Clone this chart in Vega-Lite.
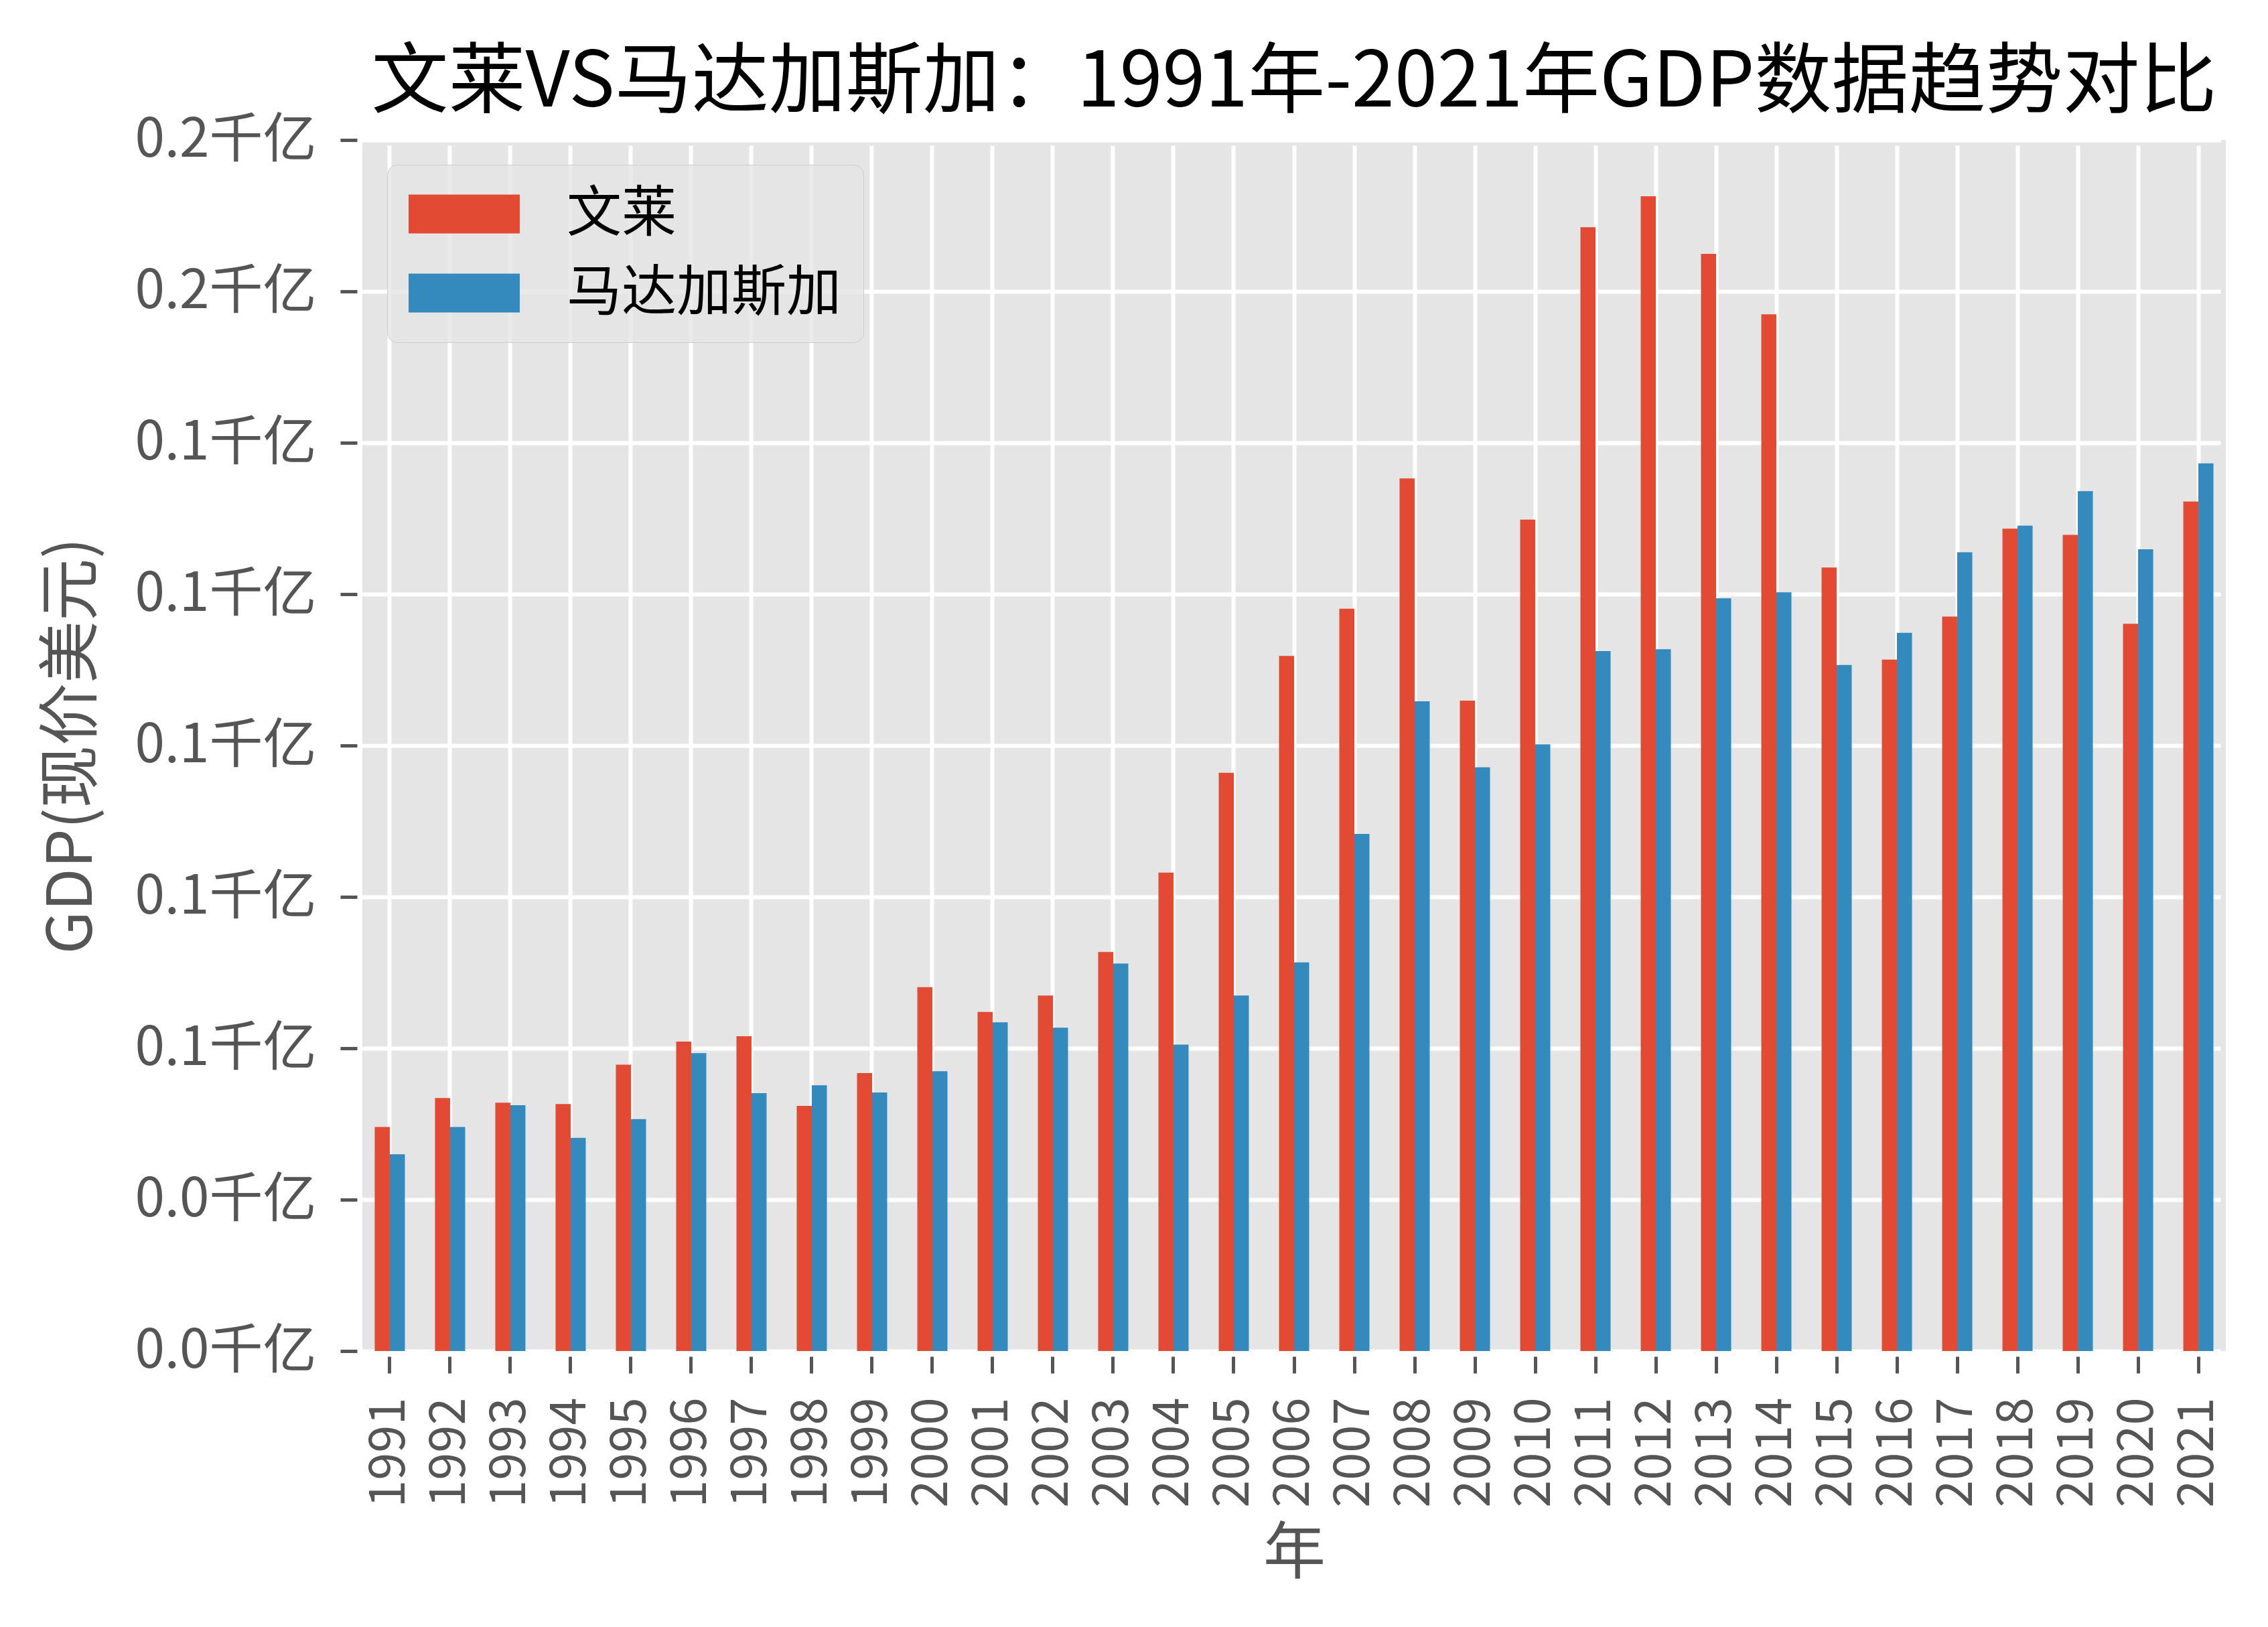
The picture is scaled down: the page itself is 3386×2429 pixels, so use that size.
{
  "$schema": "https://vega.github.io/schema/vega-lite/v6.json",
  "width": 2782,
  "height": 1808,
  "autosize": {"type": "none"},
  "padding": {"left": 541, "top": 209, "right": 63, "bottom": 412},
  "background": "white",
  "title": {
    "text": "文莱VS马达加斯加：1991年-2021年GDP数据趋势对比",
    "font": "Noto Sans CJK SC",
    "fontSize": 115,
    "fontWeight": "normal",
    "color": "#000000",
    "anchor": "middle",
    "offset": -14
  },
  "config": {
    "view": {"fill": "#E5E5E5", "stroke": null},
    "axis": {
      "domain": false,
      "grid": true,
      "gridColor": "#FFFFFF",
      "gridWidth": 6,
      "tickColor": "#555555",
      "tickWidth": 5,
      "tickSize": 25,
      "offset": 8,
      "labelLimit": 0,
      "labelColor": "#555555",
      "labelFont": "Noto Sans CJK SC",
      "titleFont": "Noto Sans CJK SC",
      "titleColor": "#555555",
      "titleFontWeight": "normal"
    }
  },
  "data": {
    "values": [
      {"year": "1991", "country": "文莱", "gdp": 3.70e9},
      {"year": "1992", "country": "文莱", "gdp": 4.18e9},
      {"year": "1993", "country": "文莱", "gdp": 4.10e9},
      {"year": "1994", "country": "文莱", "gdp": 4.08e9},
      {"year": "1995", "country": "文莱", "gdp": 4.73e9},
      {"year": "1996", "country": "文莱", "gdp": 5.11e9},
      {"year": "1997", "country": "文莱", "gdp": 5.20e9},
      {"year": "1998", "country": "文莱", "gdp": 4.05e9},
      {"year": "1999", "country": "文莱", "gdp": 4.59e9},
      {"year": "2000", "country": "文莱", "gdp": 6.01e9},
      {"year": "2001", "country": "文莱", "gdp": 5.60e9},
      {"year": "2002", "country": "文莱", "gdp": 5.87e9},
      {"year": "2003", "country": "文莱", "gdp": 6.59e9},
      {"year": "2004", "country": "文莱", "gdp": 7.90e9},
      {"year": "2005", "country": "文莱", "gdp": 9.55e9},
      {"year": "2006", "country": "文莱", "gdp": 11.48e9},
      {"year": "2007", "country": "文莱", "gdp": 12.26e9},
      {"year": "2008", "country": "文莱", "gdp": 14.41e9},
      {"year": "2009", "country": "文莱", "gdp": 10.74e9},
      {"year": "2010", "country": "文莱", "gdp": 13.73e9},
      {"year": "2011", "country": "文莱", "gdp": 18.56e9},
      {"year": "2012", "country": "文莱", "gdp": 19.07e9},
      {"year": "2013", "country": "文莱", "gdp": 18.12e9},
      {"year": "2014", "country": "文莱", "gdp": 17.12e9},
      {"year": "2015", "country": "文莱", "gdp": 12.94e9},
      {"year": "2016", "country": "文莱", "gdp": 11.42e9},
      {"year": "2017", "country": "文莱", "gdp": 12.13e9},
      {"year": "2018", "country": "文莱", "gdp": 13.58e9},
      {"year": "2019", "country": "文莱", "gdp": 13.48e9},
      {"year": "2020", "country": "文莱", "gdp": 12.01e9},
      {"year": "2021", "country": "文莱", "gdp": 14.03e9},
      {"year": "1991", "country": "马达加斯加", "gdp": 3.25e9},
      {"year": "1992", "country": "马达加斯加", "gdp": 3.70e9},
      {"year": "1993", "country": "马达加斯加", "gdp": 4.06e9},
      {"year": "1994", "country": "马达加斯加", "gdp": 3.52e9},
      {"year": "1995", "country": "马达加斯加", "gdp": 3.83e9},
      {"year": "1996", "country": "马达加斯加", "gdp": 4.92e9},
      {"year": "1997", "country": "马达加斯加", "gdp": 4.26e9},
      {"year": "1998", "country": "马达加斯加", "gdp": 4.39e9},
      {"year": "1999", "country": "马达加斯加", "gdp": 4.27e9},
      {"year": "2000", "country": "马达加斯加", "gdp": 4.62e9},
      {"year": "2001", "country": "马达加斯加", "gdp": 5.43e9},
      {"year": "2002", "country": "马达加斯加", "gdp": 5.34e9},
      {"year": "2003", "country": "马达加斯加", "gdp": 6.40e9},
      {"year": "2004", "country": "马达加斯加", "gdp": 5.06e9},
      {"year": "2005", "country": "马达加斯加", "gdp": 5.87e9},
      {"year": "2006", "country": "马达加斯加", "gdp": 6.42e9},
      {"year": "2007", "country": "马达加斯加", "gdp": 8.54e9},
      {"year": "2008", "country": "马达加斯加", "gdp": 10.73e9},
      {"year": "2009", "country": "马达加斯加", "gdp": 9.64e9},
      {"year": "2010", "country": "马达加斯加", "gdp": 10.02e9},
      {"year": "2011", "country": "马达加斯加", "gdp": 11.56e9},
      {"year": "2012", "country": "马达加斯加", "gdp": 11.59e9},
      {"year": "2013", "country": "马达加斯加", "gdp": 12.43e9},
      {"year": "2014", "country": "马达加斯加", "gdp": 12.53e9},
      {"year": "2015", "country": "马达加斯加", "gdp": 11.33e9},
      {"year": "2016", "country": "马达加斯加", "gdp": 11.86e9},
      {"year": "2017", "country": "马达加斯加", "gdp": 13.19e9},
      {"year": "2018", "country": "马达加斯加", "gdp": 13.63e9},
      {"year": "2019", "country": "马达加斯加", "gdp": 14.20e9},
      {"year": "2020", "country": "马达加斯加", "gdp": 13.24e9},
      {"year": "2021", "country": "马达加斯加", "gdp": 14.66e9}
    ]
  },
  "mark": {"type": "bar", "strokeWidth": 0},
  "encoding": {
    "x": {
      "field": "year",
      "type": "ordinal",
      "scale": {"paddingInner": 0.5, "paddingOuter": 0.205},
      "axis": {
        "title": "年",
        "titleFontSize": 93,
        "titleX": 1391,
        "titleY": 295,
        "titleBaseline": "middle",
        "titleAlign": "center",
        "labelAngle": -90,
        "labelFontSize": 74,
        "labelPadding": 36,
        "bandPosition": 0.5
      }
    },
    "xOffset": {"field": "country", "type": "nominal", "sort": ["文莱", "马达加斯加"]},
    "y": {
      "field": "gdp",
      "type": "quantitative",
      "scale": {"domain": [0, 20000000000], "nice": false},
      "axis": {
        "title": "GDP(现价美元)",
        "titleFontSize": 93,
        "titleX": -425,
        "titleY": 904,
        "titleAngle": -90,
        "titleBaseline": "middle",
        "titleAlign": "center",
        "labelFontSize": 80,
        "labelPadding": 36,
        "values": [0, 2500000000, 5000000000, 7500000000, 10000000000, 12500000000, 15000000000, 17500000000, 20000000000],
        "labelExpr": "format(datum.value / 100000000000, '.1f') + '千亿'"
      }
    },
    "color": {
      "field": "country",
      "type": "nominal",
      "scale": {"domain": ["文莱", "马达加斯加"], "range": ["#E24A33", "#348ABD"]},
      "legend": {
        "title": null,
        "orient": "top-left",
        "offset": 37,
        "padding": 32,
        "fillColor": "rgba(229,229,229,0.8)",
        "strokeColor": "#CCCCCC",
        "cornerRadius": 15,
        "symbolType": "M-1,-0.7L3,-0.7L3,0.7L-1,0.7Z",
        "symbolSize": 6889,
        "symbolStrokeWidth": 0,
        "symbolOpacity": 1,
        "labelFont": "Noto Sans CJK SC",
        "labelFontSize": 82,
        "labelColor": "#000000",
        "labelLimit": 0,
        "labelOffset": 153,
        "rowPadding": 35
      }
    }
  }
}
